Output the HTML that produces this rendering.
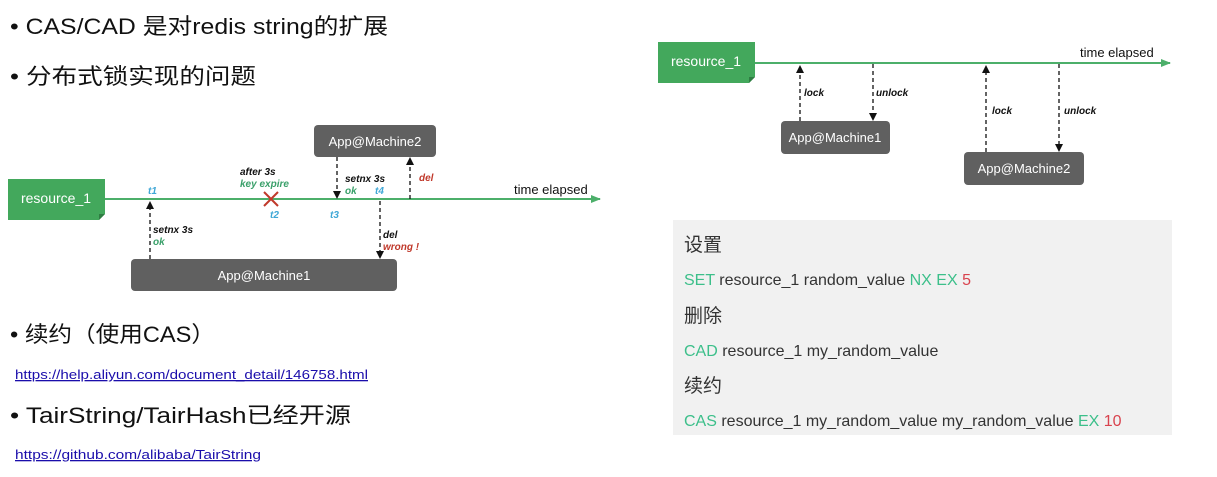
<!DOCTYPE html>
<html><head><meta charset="utf-8"><style>
html,body{margin:0;padding:0;background:#fff;width:1217px;height:477px;overflow:hidden}
svg{display:block}
.cj{font-family:"Liberation Sans","Noto Sans CJK SC",sans-serif}
.lb{font-family:"Liberation Sans",sans-serif;font-style:italic;font-weight:bold;font-size:10px}
</style></head><body>
<svg width="1217" height="477" xmlns="http://www.w3.org/2000/svg">
<defs>
<marker id="ab" markerWidth="8" markerHeight="8" refX="4" refY="4" orient="auto" markerUnits="userSpaceOnUse"><path d="M0,0 L8,4 L0,8 z" fill="#111"/></marker>
<marker id="ag" markerWidth="10" markerHeight="10" refX="9" refY="5" orient="auto" markerUnits="userSpaceOnUse"><path d="M0,1 L10,5 L0,9 z" fill="#4caf6a"/></marker>
</defs>
<g class="cj" fill="#111" font-size="22">
<text x="10" y="34" textLength="378" lengthAdjust="spacingAndGlyphs">• CAS/CAD 是对redis string的扩展</text>
<text x="10" y="84" textLength="246" lengthAdjust="spacingAndGlyphs">• 分布式锁实现的问题</text>
<text x="10" y="342" textLength="205" lengthAdjust="spacingAndGlyphs">• 续约（使用CAS）</text>
<text x="10" y="423" textLength="341" lengthAdjust="spacingAndGlyphs">• TairString/TairHash已经开源</text>
</g>
<g font-family="'Liberation Sans',sans-serif" font-size="13" fill="#1a0dab">
<text x="15" y="379" text-decoration="underline" textLength="353" lengthAdjust="spacingAndGlyphs">https://help.aliyun.com/document_detail/146758.html</text>
<text x="15" y="459" text-decoration="underline" textLength="246" lengthAdjust="spacingAndGlyphs">https://github.com/alibaba/TairString</text>
</g>
<line x1="105" y1="199" x2="600" y2="199" stroke="#4caf6a" stroke-width="2" marker-end="url(#ag)"/>
<path d="M8,179 H105 V214 L99,220 H8 Z" fill="#43a85c"/>
<path d="M99,220 L105,214 L99,214 Z" fill="#2e7d42"/>
<text x="56" y="203" text-anchor="middle" font-family="'Liberation Sans',sans-serif" font-size="14" fill="#fff">resource_1</text>
<rect x="131" y="259" width="266" height="32" rx="4" fill="#606060"/>
<text x="264" y="280" text-anchor="middle" font-family="'Liberation Sans',sans-serif" font-size="13" fill="#fff">App@Machine1</text>
<rect x="314" y="125" width="122" height="32" rx="4" fill="#606060"/>
<text x="375" y="146" text-anchor="middle" font-family="'Liberation Sans',sans-serif" font-size="13" fill="#fff">App@Machine2</text>
<text x="514" y="194" font-family="'Liberation Sans',sans-serif" font-size="13" fill="#111">time elapsed</text>
<g stroke="#111" stroke-width="1.3" stroke-dasharray="4,3" fill="none">
<line x1="150" y1="259" x2="150" y2="205" marker-end="url(#ab)"/>
<line x1="337" y1="157" x2="337" y2="195" marker-end="url(#ab)"/>
<line x1="380" y1="201" x2="380" y2="255" marker-end="url(#ab)"/>
<line x1="410" y1="199" x2="410" y2="161" marker-end="url(#ab)"/>
</g>
<g stroke="#c0392b" stroke-width="2"><line x1="264" y1="192" x2="278" y2="206"/><line x1="278" y1="192" x2="264" y2="206"/></g>
<g class="lb">
<text x="148" y="194" fill="#3fa7d6">t1</text>
<text x="153" y="233" fill="#111">setnx 3s</text><text x="153" y="245" fill="#3aa06a">ok</text>
<text x="240" y="175" fill="#111">after 3s</text><text x="240" y="187" fill="#3aa06a">key expire</text>
<text x="270" y="218" fill="#3fa7d6">t2</text>
<text x="330" y="218" fill="#3fa7d6">t3</text>
<text x="345" y="182" fill="#111">setnx 3s</text><text x="345" y="194" fill="#3aa06a">ok</text>
<text x="375" y="194" fill="#3fa7d6">t4</text>
<text x="383" y="238" fill="#111">del</text><text x="383" y="250" fill="#c0392b">wrong !</text>
<text x="419" y="181" fill="#c0392b">del</text>
</g>
<line x1="755" y1="63" x2="1170" y2="63" stroke="#4caf6a" stroke-width="2" marker-end="url(#ag)"/>
<path d="M658,42 H755 V77 L749,83 H658 Z" fill="#43a85c"/>
<path d="M749,83 L755,77 L749,77 Z" fill="#2e7d42"/>
<text x="706" y="66" text-anchor="middle" font-family="'Liberation Sans',sans-serif" font-size="14" fill="#fff">resource_1</text>
<text x="1080" y="57" font-family="'Liberation Sans',sans-serif" font-size="13" fill="#111">time elapsed</text>
<rect x="781" y="121" width="109" height="33" rx="4" fill="#606060"/>
<text x="835" y="142" text-anchor="middle" font-family="'Liberation Sans',sans-serif" font-size="13" fill="#fff">App@Machine1</text>
<rect x="964" y="152" width="120" height="33" rx="4" fill="#606060"/>
<text x="1024" y="173" text-anchor="middle" font-family="'Liberation Sans',sans-serif" font-size="13" fill="#fff">App@Machine2</text>
<g stroke="#111" stroke-width="1.3" stroke-dasharray="4,3" fill="none">
<line x1="800" y1="121" x2="800" y2="69" marker-end="url(#ab)"/>
<line x1="873" y1="64" x2="873" y2="117" marker-end="url(#ab)"/>
<line x1="986" y1="152" x2="986" y2="69" marker-end="url(#ab)"/>
<line x1="1059" y1="64" x2="1059" y2="148" marker-end="url(#ab)"/>
</g>
<g class="lb" fill="#111">
<text x="804" y="96">lock</text><text x="876" y="96">unlock</text>
<text x="992" y="114">lock</text><text x="1064" y="114">unlock</text>
</g>
<rect x="673" y="220" width="499" height="215" fill="#f1f1f1"/>
<g class="cj" font-size="16" fill="#333">
<text x="684" y="251" font-size="19">设置</text>
<text x="684" y="285"><tspan fill="#3cbf8a">SET</tspan> resource_1 random_value <tspan fill="#3cbf8a">NX EX</tspan> <tspan fill="#d9434e">5</tspan></text>
<text x="684" y="322" font-size="19">删除</text>
<text x="684" y="356"><tspan fill="#3cbf8a">CAD</tspan> resource_1 my_random_value</text>
<text x="684" y="392" font-size="19">续约</text>
<text x="684" y="426"><tspan fill="#3cbf8a">CAS</tspan> resource_1 my_random_value my_random_value <tspan fill="#3cbf8a">EX</tspan> <tspan fill="#d9434e">10</tspan></text>
</g>
</svg>
</body></html>
